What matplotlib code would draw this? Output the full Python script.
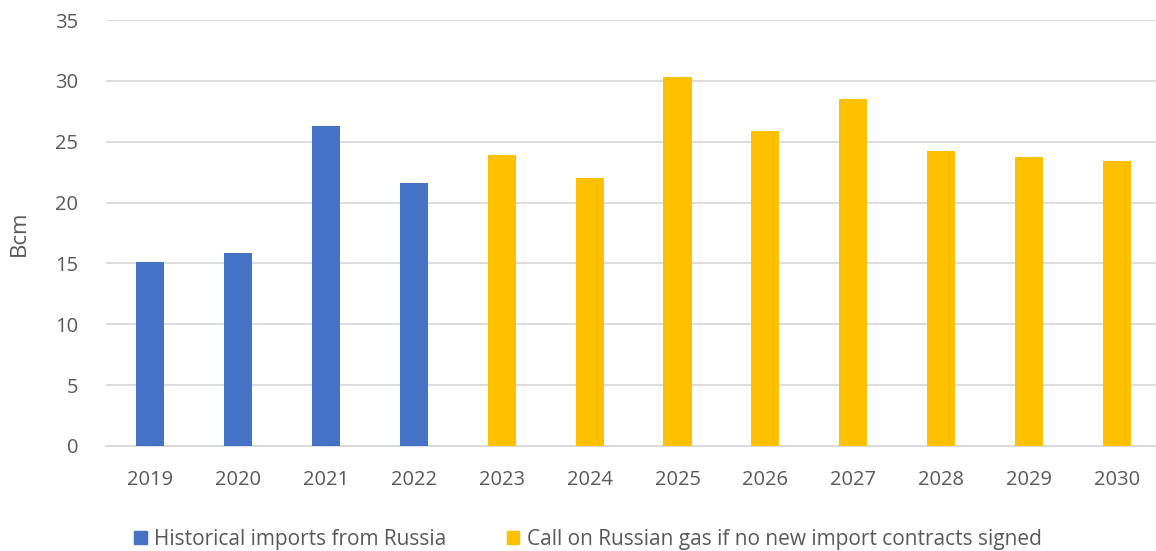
import matplotlib.pyplot as plt
from matplotlib.patches import Patch

# Data (Bcm)
hist_years = ["2019", "2020", "2021", "2022"]
hist_values = [15.15, 15.85, 26.3, 21.6]
call_years = ["2023", "2024", "2025", "2026", "2027", "2028", "2029", "2030"]
call_values = [23.9, 22.0, 30.3, 25.9, 28.55, 24.2, 23.75, 23.45]

BLUE = "#4472C4"
YELLOW = "#FFC000"
GREY_TEXT = "#595959"
GRID = "#D9D9D9"

plt.rcParams["font.family"] = ["Open Sans", "DejaVu Sans"]

fig = plt.figure(figsize=(11.56, 5.51), dpi=100)
ax = fig.add_axes([0.0917, 0.1906, 0.9127, 0.7731])

years = hist_years + call_years
x_hist = [years.index(y) for y in hist_years]
x_call = [years.index(y) for y in call_years]

ax.bar(x_hist, hist_values, width=0.32, color=BLUE, zorder=3)
ax.bar(x_call, call_values, width=0.32, color=YELLOW, zorder=3)

ax.set_xlim(-0.5, len(years) - 0.5)
ax.set_ylim(0, 35)
ax.set_yticks(range(0, 36, 5))
ax.set_xticks(range(len(years)))
ax.set_xticklabels(years)

ax.yaxis.grid(True, color=GRID, linewidth=1.3, zorder=0)
ax.set_axisbelow(True)
for s in ax.spines.values():
    s.set_visible(False)
ax.tick_params(axis="both", length=0, labelsize=14.5, labelcolor=GREY_TEXT)
ax.tick_params(axis="x", pad=17)
ax.tick_params(axis="y", pad=20)
# zero line drawn like the gridlines
ax.axhline(0, color=GRID, linewidth=1.3, zorder=1, clip_on=False)

ax.set_ylabel("Bcm", fontsize=16, color=GREY_TEXT, labelpad=18)

handles = [Patch(color=BLUE, label="Historical imports from Russia"),
           Patch(color=YELLOW, label="Call on Russian gas if no new import contracts signed")]
fig.legend(handles=handles, loc="lower left", bbox_to_anchor=(0.1, -0.032), ncol=2,
           frameon=False, fontsize=15, labelcolor=GREY_TEXT, handlelength=0.6,
           handleheight=0.6, handletextpad=0.35, columnspacing=2.9)

fig.savefig("out.png", dpi=100)
